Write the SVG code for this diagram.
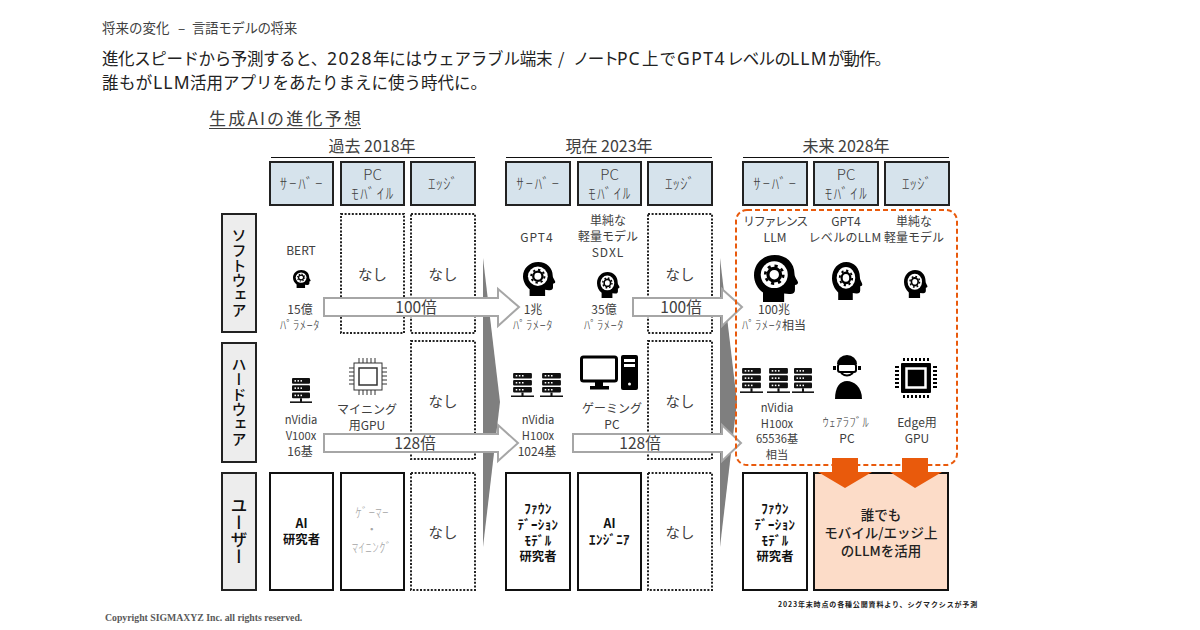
<svg xmlns="http://www.w3.org/2000/svg" xmlns:xlink="http://www.w3.org/1999/xlink" width="1200" height="630" viewBox="0 0 1200 630">
<style>
text{font-family:"Noto Sans CJK JP","Liberation Sans",sans-serif;fill:#404040;}
.m{text-anchor:middle}
.hk{font-size:15px;font-weight:300}
.s{font-size:12px}
.lat{font-size:11.2px}
.pk{font-size:12.5px;letter-spacing:.5px;font-weight:300}
.b{font-size:12.3px;font-weight:700;fill:#111}
.bk{font-size:13px;letter-spacing:.4px;font-weight:700;fill:#111}
.g{font-size:13px;letter-spacing:.3px;font-weight:300;fill:#a6a6a6}
.na{font-size:14.5px}
.yr{font-size:16px}
.ar{font-size:15.5px}
.v{font-size:15px;font-weight:500;fill:#111;writing-mode:vertical-rl;text-anchor:middle}
.hd{fill:#d6e3ec;stroke:#222;stroke-width:2}
.lb{fill:#ededed;stroke:#222;stroke-width:2}
.cell{fill:#fff;stroke:#111;stroke-width:2}
.dot{fill:#fff;stroke:#222;stroke-width:2;stroke-dasharray:2 1.6}
.ln{stroke:#111;stroke-width:1}
.arr{fill:#fff;stroke:#a6a6a6;stroke-width:2}
.wedge{fill:#7f7f7f}
.or{fill:#e95a0c}
.t1{font-size:16.5px;fill:#222}
.tl{font-family:"Noto Sans","Liberation Sans",sans-serif;font-size:17.5px}
.pc{font-size:13.5px;font-weight:500;fill:#222}
</style>
<defs>
<symbol id="head" viewBox="0 0 100 105" preserveAspectRatio="none">
<path d="M46 0C72 0 90 18 90 42C90 47 92 50 96 57C100 63 97 66 91 67L91 78C91 85 86 88 78 87L67 86L67 105L20 105L20 84C8 75 0 60 0 45C0 19 20 0 46 0Z" fill="#000"/>
<circle cx="45" cy="44" r="30" fill="#fff"/>
<circle cx="45" cy="44" r="14" fill="none" stroke="#000" stroke-width="7"/>
<circle cx="45" cy="44" r="20" fill="none" stroke="#000" stroke-width="6" stroke-dasharray="7 8.7"/>
</symbol>
<symbol id="srv" viewBox="0 0 44 50" preserveAspectRatio="none">
<g fill="#111"><rect x="4" y="0" width="36" height="11" rx="2"/><rect x="4" y="14" width="36" height="11" rx="2"/><rect x="4" y="28" width="36" height="11" rx="2"/><rect x="20" y="39" width="4" height="7"/><rect x="0" y="45" width="44" height="3"/></g>
<g fill="#fff"><rect x="9" y="4" width="3" height="3"/><rect x="15" y="4" width="3" height="3"/><rect x="21" y="4" width="3" height="3"/><rect x="9" y="18" width="3" height="3"/><rect x="15" y="18" width="3" height="3"/><rect x="21" y="18" width="3" height="3"/><rect x="9" y="32" width="3" height="3"/><rect x="15" y="32" width="3" height="3"/><rect x="21" y="32" width="3" height="3"/></g>
</symbol>
</defs>

<g id="heading">
<text y="33" font-size="13.5"><tspan x="102">将来の変化 </tspan><tspan x="178">– </tspan><tspan x="192" letter-spacing="-.4">言語モデルの将来</tspan></text>
<text class="t1" y="65"><tspan x="102" letter-spacing="-.4">進化スピードから予測すると、</tspan><tspan class="tl" x="327" letter-spacing="1.500">2028</tspan><tspan x="373" letter-spacing="-.2">年にはウェアラブル端末 </tspan><tspan x="558">/ </tspan><tspan x="573" letter-spacing="-1.800">ノート</tspan><tspan class="tl" x="617" letter-spacing="1">PC</tspan><tspan x="642" letter-spacing="1">上で</tspan><tspan class="tl" x="677" letter-spacing="1.500">GPT4</tspan><tspan x="727" letter-spacing="-.7">レベルの</tspan><tspan class="tl" x="790" letter-spacing="1.200">LLM</tspan><tspan x="828" letter-spacing="-1">が動作。</tspan></text>
<text class="t1" y="89"><tspan x="102" letter-spacing=".4">誰もが</tspan><tspan class="tl" x="153" letter-spacing="1.200">LLM</tspan><tspan x="190">活用アプリをあたりまえに使う時代に。</tspan></text>
<text x="209" y="125" font-size="17" letter-spacing="2.200">生成AIの進化予想</text>
<line x1="209" y1="128.500" x2="361" y2="128.500" stroke="#404040" stroke-width="1"/>
</g>

<g id="wedges">
<polygon class="wedge" points="483,258 500,402 483,547"/>
<polygon class="wedge" points="720,258 737,402 720,547"/>
</g>

<g id="year-2018">
<text class="yr m" x="372" y="152">過去 2018年</text>
<line class="ln" x1="271" y1="157.500" x2="475" y2="157.500"/>
</g>
<g id="year-2023">
<text class="yr m" x="609" y="152">現在 2023年</text>
<line class="ln" x1="506" y1="157.500" x2="712" y2="157.500"/>
</g>
<g id="year-2028">
<text class="yr m" x="846" y="152">未来 2028年</text>
<line class="ln" x1="743" y1="157.500" x2="949" y2="157.500"/>
</g>

<g id="hdr-a1"><rect class="hd" x="270" y="162" width="63" height="43"/><text class="hk m" x="302" y="189" letter-spacing="1.700">ｻｰﾊﾞｰ</text></g>
<g id="hdr-a2"><rect class="hd" x="341" y="162" width="63" height="43"/><text class="hk m" x="372.500" y="180">PC</text><text class="hk m" x="373" y="199" letter-spacing="1.500">ﾓﾊﾞｲﾙ</text></g>
<g id="hdr-a3"><rect class="hd" x="411" y="162" width="64" height="43"/><text class="hk m" x="443" y="189">ｴｯｼﾞ</text></g>
<g id="hdr-b1"><rect class="hd" x="506" y="162" width="64" height="43"/><text class="hk m" x="538.500" y="189" letter-spacing="1.700">ｻｰﾊﾞｰ</text></g>
<g id="hdr-b2"><rect class="hd" x="578" y="162" width="63" height="43"/><text class="hk m" x="609.500" y="180">PC</text><text class="hk m" x="610" y="199" letter-spacing="1.500">ﾓﾊﾞｲﾙ</text></g>
<g id="hdr-b3"><rect class="hd" x="648" y="162" width="64" height="43"/><text class="hk m" x="680" y="189">ｴｯｼﾞ</text></g>
<g id="hdr-c1"><rect class="hd" x="743" y="162" width="64" height="43"/><text class="hk m" x="775.500" y="189" letter-spacing="1.700">ｻｰﾊﾞｰ</text></g>
<g id="hdr-c2"><rect class="hd" x="814" y="162" width="64" height="43"/><text class="hk m" x="846" y="180">PC</text><text class="hk m" x="846.500" y="199" letter-spacing="1.500">ﾓﾊﾞｲﾙ</text></g>
<g id="hdr-c3"><rect class="hd" x="885" y="162" width="64" height="43"/><text class="hk m" x="917" y="189">ｴｯｼﾞ</text></g>

<g id="row-software"><rect class="lb" x="222" y="214" width="34" height="118"/><text class="v" x="239" y="273">ソフトウェア</text></g>
<g id="row-hardware"><rect class="lb" x="222" y="343" width="34" height="119"/><text class="v" x="239" y="402">ハードウェア</text></g>
<g id="row-user"><rect class="lb" x="222" y="473" width="34" height="117"/><text class="v" x="239" y="531" style="font-size:17px">ユーザー</text></g>

<g id="sw-a2"><rect class="dot" x="341" y="214" width="63" height="119"/><text class="na m" x="372.500" y="280">なし</text></g>
<g id="sw-a3"><rect class="dot" x="411" y="214" width="64" height="119"/><text class="na m" x="443" y="280">なし</text></g>
<g id="hw-a3"><rect class="dot" x="411" y="341" width="64" height="118"/><text class="na m" x="443" y="407">なし</text></g>
<g id="sw-b3"><rect class="dot" x="648" y="214" width="64" height="119"/><text class="na m" x="680" y="280">なし</text></g>
<g id="hw-b3"><rect class="dot" x="648" y="341" width="64" height="118"/><text class="na m" x="680" y="407">なし</text></g>

<g id="connectors">
<polygon class="arr" points="324,298 498,298 498,289 519,307 498,326 498,316 324,316"/>
<polygon class="arr" points="633,298 722,298 722,289 742,307 722,326 722,316 633,316"/>
<polygon class="arr" points="324,434 498,434 498,425 518,443 498,461 498,452 324,452"/>
<polygon class="arr" points="573,434 722,434 722,425 741,443 722,461 722,452 573,452"/>
<rect x="736" y="210" width="221" height="255" rx="11" fill="none" stroke="#e95a0c" stroke-width="2" stroke-dasharray="5 3"/>
</g>
<g id="arrow-labels">
<text class="ar m" x="416" y="313">100倍</text>
<text class="ar m" x="681" y="313">100倍</text>
<text class="ar m" x="415" y="449">128倍</text>
<text class="ar m" x="640" y="449">128倍</text>
</g>

<g id="sw-a1"><text class="m" font-size="12" x="301" y="255">BERT</text><use xlink:href="#head" href="#head" x="293" y="270" width="18" height="18"/><text class="s m" x="300" y="314">15億</text><text class="pk m" x="300" y="330">ﾊﾟﾗﾒｰﾀ</text></g>
<g id="sw-b1"><text class="m" font-size="12" letter-spacing="1" x="537" y="242">GPT4</text><use xlink:href="#head" href="#head" x="523" y="262" width="33" height="34"/><text class="s m" x="533" y="314">1兆</text><text class="pk m" x="533" y="330">ﾊﾟﾗﾒｰﾀ</text></g>
<g id="sw-b2"><text class="s m" x="608" y="225">単純な</text><text class="s m" x="608" y="241">軽量モデル</text><text class="m" font-size="12" letter-spacing="1" x="608" y="257">SDXL</text><use xlink:href="#head" href="#head" x="597" y="272" width="23" height="26"/><text class="s m" x="604" y="314">35億</text><text class="pk m" x="604" y="330">ﾊﾟﾗﾒｰﾀ</text></g>
<g id="sw-c1"><text class="s m" x="775" y="226" letter-spacing="-1.300">リファレンス</text><text class="s m" x="775" y="242">LLM</text><use xlink:href="#head" href="#head" x="754" y="255" width="45" height="47"/><text class="s m" x="774" y="314">100兆</text><text class="s m" x="774" y="330"><tspan class="pk">ﾊﾟﾗﾒｰﾀ</tspan>相当</text></g>
<g id="sw-c2"><text class="s m" x="846" y="226">GPT4</text><text class="s m" x="845" y="242" letter-spacing=".3">レベルのLLM</text><use xlink:href="#head" href="#head" x="832" y="262" width="31" height="38"/></g>
<g id="sw-c3"><text class="s m" x="914" y="226">単純な</text><text class="s m" x="914" y="242">軽量モデル</text><use xlink:href="#head" href="#head" x="904" y="270" width="24" height="28"/></g>

<g id="hw-a1"><use xlink:href="#srv" href="#srv" x="290" y="378" width="22" height="26"/><text class="lat m" x="301" y="424">nVidia</text><text class="lat m" x="301" y="440">V100x</text><text class="s m" x="300" y="456">16基</text></g>
<g id="hw-a2">
<g fill="none" stroke="#333" stroke-width="1"><rect x="354" y="363" width="28" height="27"/><rect x="359" y="368" width="18" height="17" stroke-width="1.500"/><path d="M359 358v5M363 358v5M367 358v5M371 358v5M375 358v5M359 390v5M363 390v5M367 390v5M371 390v5M375 390v5M349 368h5M349 372h5M349 376h5M349 380h5M349 384h5M382 368h5M382 372h5M382 376h5M382 380h5M382 384h5"/></g>
<text class="s m" x="367" y="414">マイニング</text><text class="s m" x="367" y="430">用GPU</text></g>
<g id="hw-b1"><use xlink:href="#srv" href="#srv" x="511" y="373" width="23" height="25"/><use xlink:href="#srv" href="#srv" x="540" y="373" width="23" height="25"/><text class="lat m" x="538" y="424">nVidia</text><text class="lat m" x="538" y="440">H100x</text><text class="s m" x="537" y="456">1024基</text></g>
<g id="hw-b2">
<rect x="581.500" y="357" width="35" height="24" rx="2" fill="#fff" stroke="#000" stroke-width="3"/><rect x="595" y="382" width="8" height="5" fill="#000"/><rect x="590" y="386" width="19" height="3.500" fill="#000"/>
<rect x="621" y="355" width="17" height="35" rx="2" fill="#000"/><rect x="624" y="359" width="11" height="3" fill="#fff"/><rect x="624" y="364" width="11" height="3" fill="#fff"/><circle cx="629.500" cy="384" r="1.500" fill="#fff"/>
<text class="s m" x="612" y="413">ゲーミング</text><text class="s m" x="612" y="429">PC</text></g>
<g id="hw-c1"><use xlink:href="#srv" href="#srv" x="740" y="368" width="23" height="26"/><use xlink:href="#srv" href="#srv" x="767" y="368" width="23" height="26"/><use xlink:href="#srv" href="#srv" x="792" y="368" width="22" height="26"/><text class="lat m" x="777" y="412">nVidia</text><text class="lat m" x="777" y="428">H100x</text><text class="lat m" x="777" y="443">65536基</text><text class="lat m" x="777" y="459">相当</text></g>
<g id="hw-c2">
<path d="M837 364a10 9 0 0 1 20 0z" fill="#000"/>
<rect x="838" y="364" width="18" height="8" rx="2" fill="#fff" stroke="#000" stroke-width="2"/>
<rect x="833" y="366" width="3" height="4" fill="#000"/><rect x="858" y="366" width="3" height="4" fill="#000"/>
<path d="M841 373q6 5 12 0" fill="none" stroke="#000" stroke-width="2"/>
<path d="M835 399c0-12 5-18 12-18s15 6 15 18z" fill="#000"/>
<text class="pk m" x="846" y="427">ｳｪｱﾗﾌﾞﾙ</text><text class="s m" x="847" y="443">PC</text></g>
<g id="hw-c3">
<rect x="901" y="363" width="30" height="30" rx="1" fill="#000"/><rect x="906.500" y="368.500" width="19" height="19" fill="none" stroke="#fff" stroke-width="2.500"/>
<path d="M904 358v3M908 358v3M912 358v3M916 358v3M920 358v3M924 358v3M928 358v3M904 395v3M908 395v3M912 395v3M916 395v3M920 395v3M924 395v3M928 395v3" stroke="#000" stroke-width="2"/>
<path d="M895 367h4M895 371h4M895 375h4M895 379h4M895 383h4M895 387h4M933 367h4M933 371h4M933 375h4M933 379h4M933 383h4M933 387h4" stroke="#000" stroke-width="2"/>
<text class="s m" x="917" y="427">Edge用</text><text class="s m" x="917" y="443">GPU</text></g>

<g id="us-a1"><rect class="cell" x="270" y="473" width="63" height="117"/><text class="b m" x="301.500" y="528">AI</text><text class="b m" x="301.500" y="544">研究者</text></g>
<g id="us-a2"><rect class="cell" x="341" y="473" width="63" height="117"/><text class="g m" x="372" y="517">ｹﾞｰﾏｰ</text><text class="g m" x="372" y="534">・</text><text class="g m" x="372" y="552">ﾏｲﾆﾝｸﾞ</text></g>
<g id="us-a3"><rect class="dot" x="411" y="473" width="64" height="117"/><text class="na m" x="443" y="538">なし</text></g>
<g id="us-b1"><rect class="cell" x="506" y="473" width="64" height="117"/><text class="bk m" x="538" y="513">ﾌｧｳﾝ</text><text class="bk m" x="538" y="529">ﾃﾞｰｼｮﾝ</text><text class="bk m" x="538" y="545">ﾓﾃﾞﾙ</text><text class="b m" x="538" y="561">研究者</text></g>
<g id="us-b2"><rect class="cell" x="578" y="473" width="63" height="117"/><text class="b m" x="609.500" y="528">AI</text><text class="bk m" x="609.500" y="544">ｴﾝｼﾞﾆｱ</text></g>
<g id="us-b3"><rect class="dot" x="648" y="473" width="64" height="117"/><text class="na m" x="680" y="538">なし</text></g>
<g id="us-c1"><rect class="cell" x="743" y="473" width="64" height="117"/><text class="bk m" x="775" y="513">ﾌｧｳﾝ</text><text class="bk m" x="775" y="529">ﾃﾞｰｼｮﾝ</text><text class="bk m" x="775" y="545">ﾓﾃﾞﾙ</text><text class="b m" x="775" y="561">研究者</text></g>
<g id="us-c2"><rect x="814" y="473" width="134" height="117" fill="#fcdcc8" stroke="#111" stroke-width="2"/><text class="pc m" x="881" y="520">誰でも</text><text class="pc m" x="881" y="538">モバイル/エッジ上</text><text class="pc m" x="881" y="556">のLLMを活用</text></g>

<g id="orange-arrows">
<polygon class="or" points="832,458 858,458 858,472 872,472 845,488 818,472 832,472"/>
<polygon class="or" points="902,458 928,458 928,472 942,472 915,488 890,472 902,472"/>
</g>

<g id="footer">
<text x="105" y="621" font-size="9.750" font-weight="700" style="font-family:'Liberation Serif',serif;fill:#595959">Copyright SIGMAXYZ Inc. all rights reserved.</text>
<text x="778" y="607" font-size="7" font-weight="700" letter-spacing="0.850" style="fill:#222">2023年末時点の各種公開資料より、シグマクシスが予測</text>
</g>
</svg>
